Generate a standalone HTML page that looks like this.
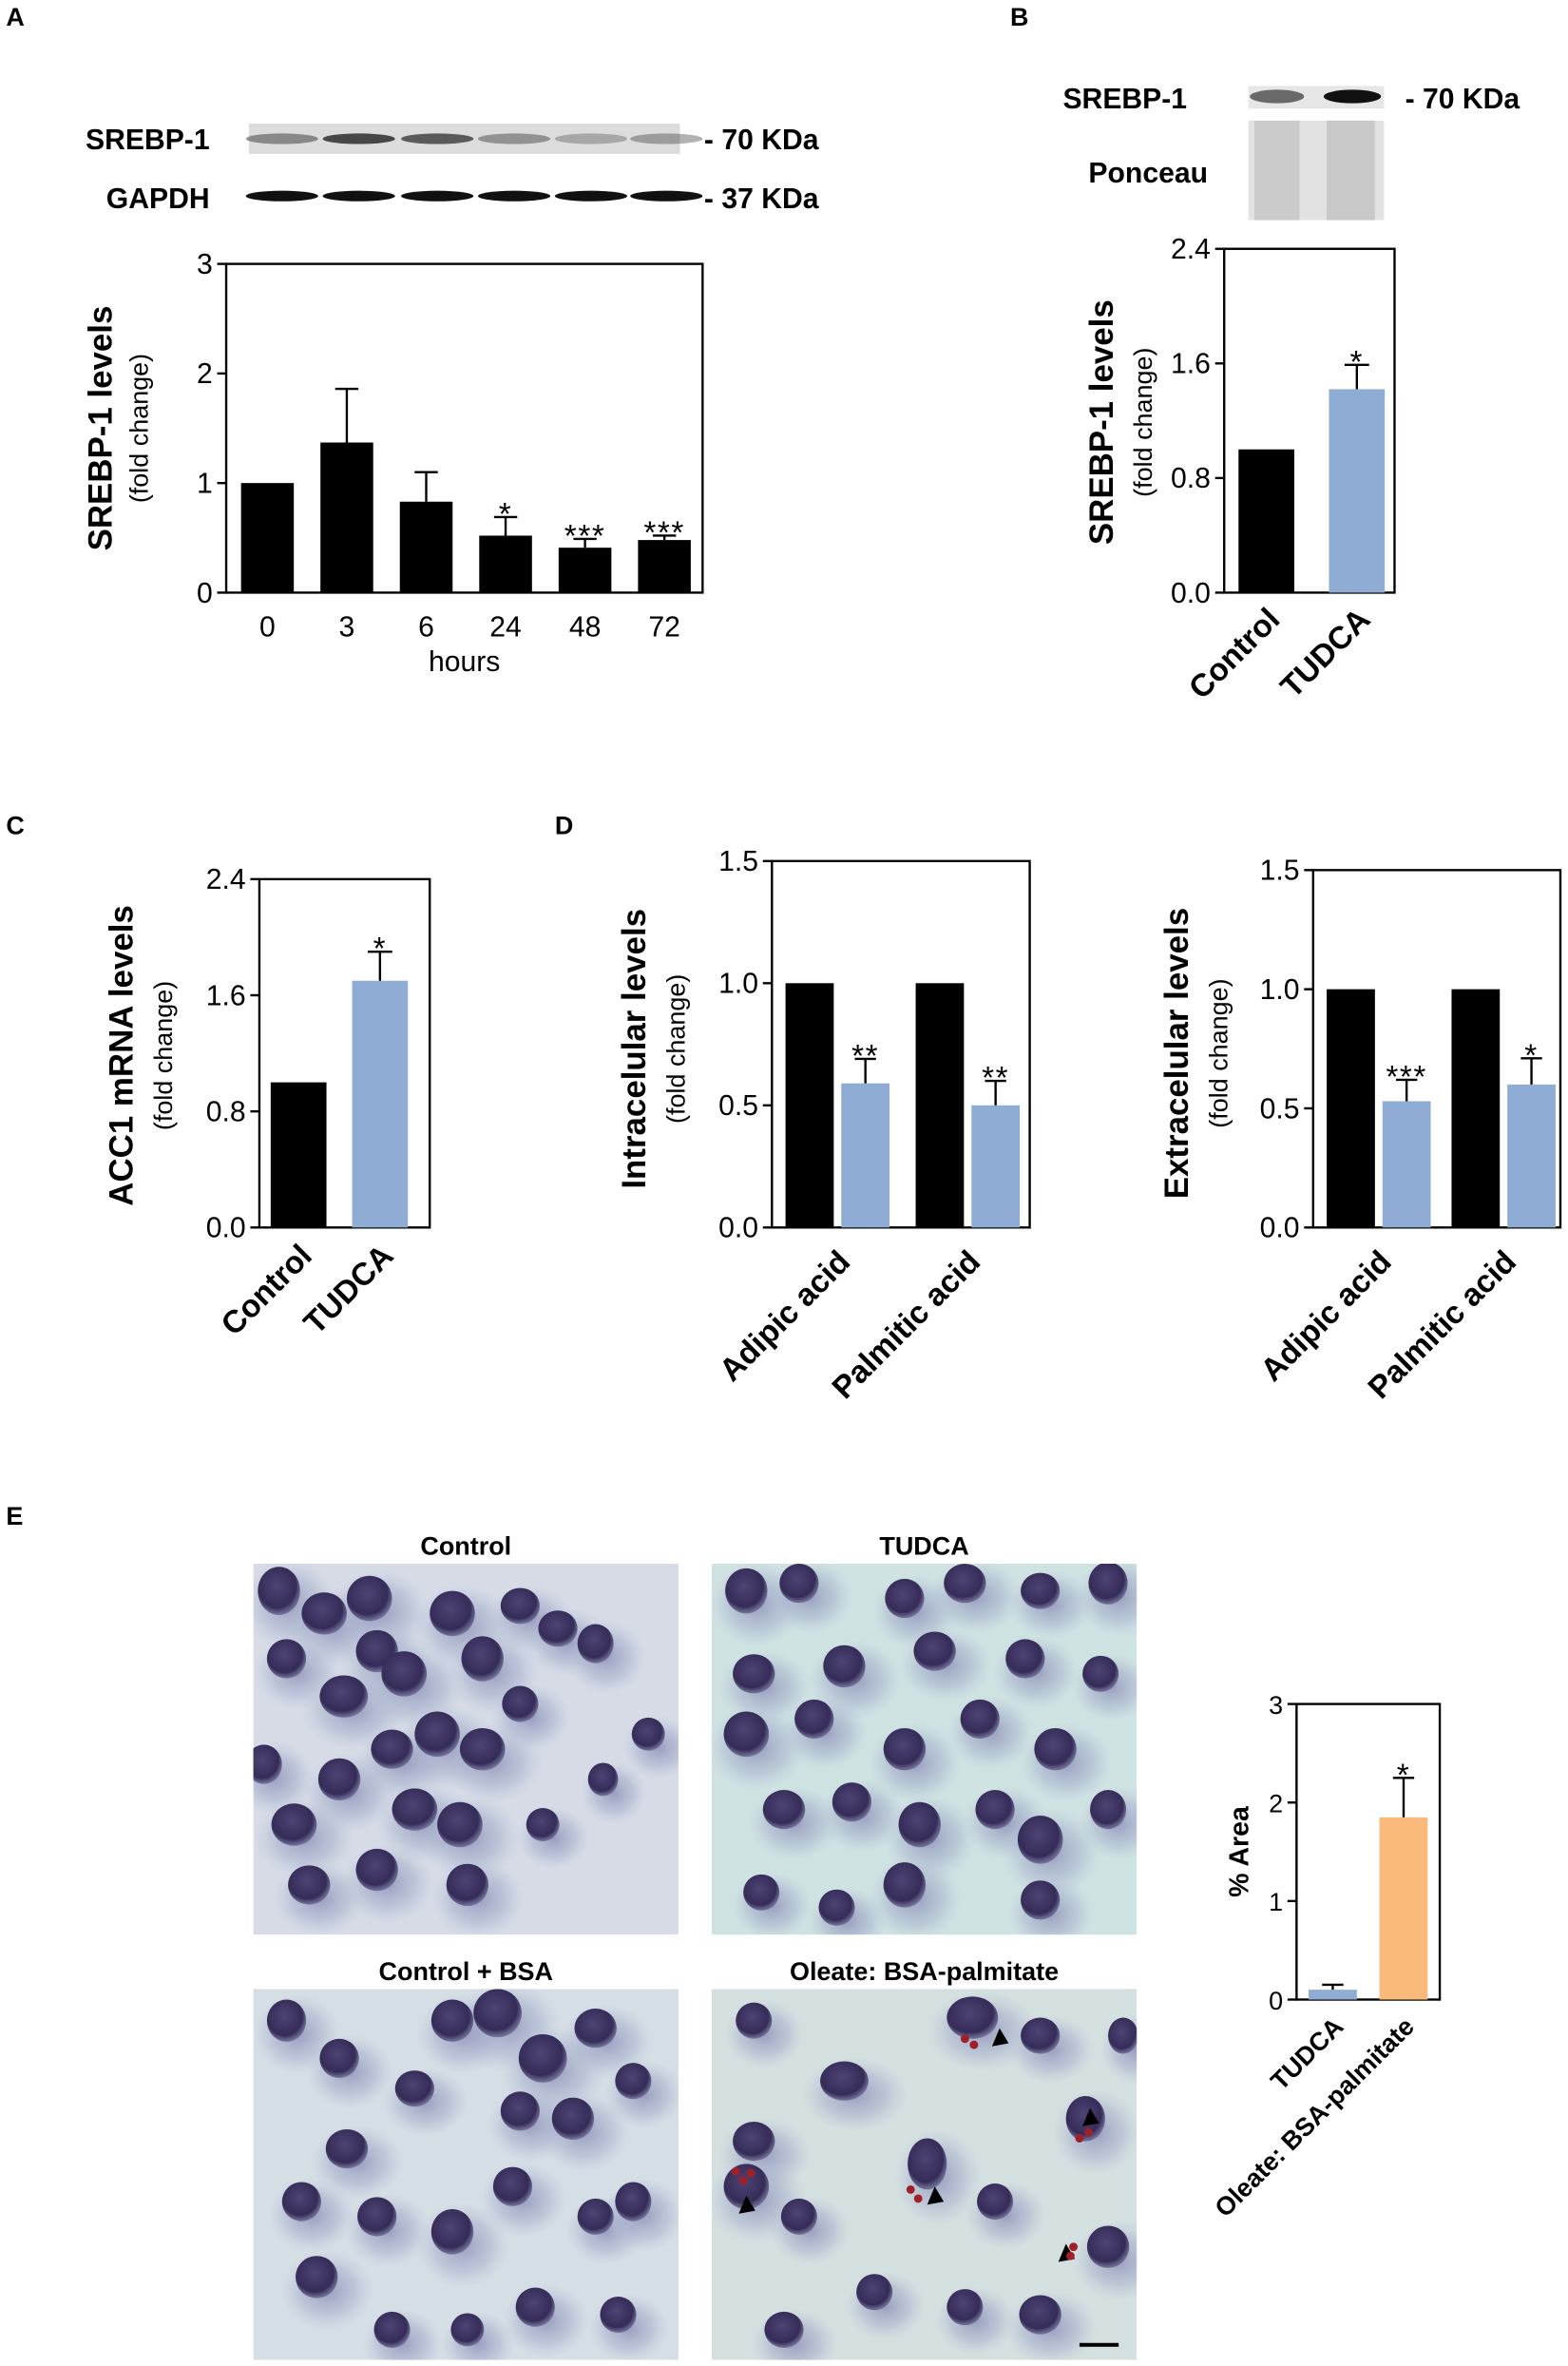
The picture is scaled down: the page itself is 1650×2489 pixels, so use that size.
<!DOCTYPE html>
<html><head><meta charset="utf-8"><style>
html,body{margin:0;padding:0;background:#fff}
svg{display:block}
text{font-family:"Liberation Sans",Arial,sans-serif}
</style></head><body>
<svg id="fig" width="1650" height="2489" viewBox="0 0 1040 1569" xmlns="http://www.w3.org/2000/svg">
<defs>
<radialGradient id="cell" cx="0.45" cy="0.4" r="0.6"><stop offset="0" stop-color="#4e4475"/><stop offset="0.75" stop-color="#352c58"/><stop offset="1" stop-color="#5d5a86" stop-opacity="0.7"/></radialGradient>
<radialGradient id="cyto" cx="0.5" cy="0.5" r="0.5"><stop offset="0" stop-color="#8a8cb4" stop-opacity="0.8"/><stop offset="0.6" stop-color="#a4aecb" stop-opacity="0.5"/><stop offset="1" stop-color="#b8c4d6" stop-opacity="0"/></radialGradient>
</defs>
<g id="root"></g>
</svg>
<script>
// ---------- Panel A data ----------
const aCategories = ["0","3","6","24","48","72"];
const aValues = [1.0, 1.37, 0.83, 0.52, 0.41, 0.48];
const aErrors = [0, 0.49, 0.27, 0.17, 0.08, 0.04];
const aStars = ["", "", "", "*", "***", "***"];
const aTicks = [0, 1, 2, 3];
// ---------- Panel B data ----------
const bCategories = ["Control","TUDCA"];
const bValues = [1.0, 1.42];
const bErrors = [0, 0.17];
const bStars = ["", "*"];
const bTicks = [0, 0.8, 1.6, 2.4];
const bTickLabels = ["0.0","0.8","1.6","2.4"];
// ---------- Panel C data ----------
const cCategories = ["Control","TUDCA"];
const cValues = [1.0, 1.7];
const cErrors = [0, 0.2];
const cStars = ["", "*"];
const cTicks = [0, 0.8, 1.6, 2.4];
const cTickLabels = ["0.0","0.8","1.6","2.4"];
// ---------- Panel D (intracellular) ----------
const dCategories = ["Adipic acid","Palmitic acid"];
const dInControl = [1.0, 1.0];
const dInTudca = [0.59, 0.5];
const dInErr = [0.1, 0.1];
const dInStars = ["**","**"];
// ---------- Panel D (extracellular) ----------
const dExControl = [1.0, 1.0];
const dExTudca = [0.53, 0.6];
const dExErr = [0.09, 0.11];
const dExStars = ["***","*"];
const dTicks = [0, 0.5, 1.0, 1.5];
const dTickLabels = ["0.0","0.5","1.0","1.5"];
// ---------- Panel E ----------
const eCategories = ["TUDCA","Oleate: BSA-palmitate"];
const eValues = [0.1, 1.85];
const eErrors = [0.05, 0.4];
const eStars = ["", "*"];
const eTicks = [0, 1, 2, 3];

const NS = "http://www.w3.org/2000/svg";
const root = document.getElementById("root");
function mk(tag, attrs, parent, txt) {
  const e = document.createElementNS(NS, tag);
  for (const k in attrs) e.setAttribute(k, attrs[k]);
  if (txt !== undefined) e.textContent = txt;
  (parent || root).appendChild(e);
  return e;
}
const BLUE = "#8eacd4", ORANGE = "#f9ba7c";

function axes(g, L, T, R, B, max, ticks, labels, fs) {
  const y = v => B - v / max * (B - T);
  const frame = mk("rect", {x:L, y:T, width:R-L, height:B-T, fill:"none", stroke:"#000", "stroke-width":1.5}, g);
  
  
  ticks.forEach((t, i) => {
    const tk = mk("line", {x1:L-6, x2:L, y1:y(t), y2:y(t), stroke:"#000", "stroke-width":1.5}, g);
    
    
    const tl = mk("text", {x:L-9, y:y(t)+6.5, "text-anchor":"end", "font-size":fs||19}, g, labels ? labels[i] : String(t));
    
    
  });
  return y;
}
function bar(g, cx, w, v, err, star, color, y, B, name) {
  const r = mk("rect", {x:cx-w/2, y:y(v), width:w, height:B-y(v), fill:color}, g);
  
  
  let top = y(v);
  if (err > 0) {
    top = y(v + err);
    const e1 = mk("line", {x1:cx, x2:cx, y1:y(v), y2:top, stroke:"#000", "stroke-width":1.5}, g);
    
    
    const e2 = mk("line", {x1:cx-w*0.22, x2:cx+w*0.22, y1:top, y2:top, stroke:"#000", "stroke-width":1.5}, g);
    
    
  }
  if (star) {
    const s = mk("text", {x:cx, y:top + 5, "text-anchor":"middle", "font-size":21, "letter-spacing":1}, g, star);
    
    
  }
}
function yTitle(g, x1, x2, cy, t1, t2) {
  const a = mk("text", {x:0, y:0, transform:`translate(${x1},${cy}) rotate(-90)`, "text-anchor":"middle", "font-size":22, "font-weight":"bold"}, g, t1);
  
  
  if (t2) {
    const b = mk("text", {x:0, y:0, transform:`translate(${x2},${cy}) rotate(-90)`, "text-anchor":"middle", "font-size":17}, g, t2);
    
    
  }
}
function rotLabel(g, x, y, t, fs) {
  const e = mk("text", {x:0, y:0, transform:`translate(${x},${y}) rotate(-45)`, "text-anchor":"end", "font-size":fs||21, "font-weight":"bold"}, g, t);
  
  
}
function panelLabel(x, y, t) {
  const e = mk("text", {x:x, y:y, "font-size":17, "font-weight":"bold"}, root, t);
  
  
}
function blotLabel(g, x, y, t, anchor) {
  const e = mk("text", {x:x, y:y, "font-size":19, "font-weight":"bold", "text-anchor":anchor||"start"}, g, t);
  
  
}

// ================= Panel A =================
panelLabel(4, 17, "A");
const gA = mk("g", {});  
blotLabel(gA, 139, 99, "SREBP-1", "end");
blotLabel(gA, 139, 138, "GAPDH", "end");
blotLabel(gA, 467, 99, "- 70 KDa");
blotLabel(gA, 467, 138, "- 37 KDa");
mk("rect", {x:165, y:82, width:286, height:20, fill:"#dcdcdc"}, gA);
[[187,0.45],[238,0.8],[290,0.7],[341,0.4],[392,0.28],[442,0.35]].forEach(([cx,o])=>{
  const b = mk("ellipse", {cx:cx, cy:92, rx:24, ry:3.5, fill:"#222", opacity:o}, gA);
   
});
[187,238,290,341,392,442].forEach(cx=>{
  const b = mk("ellipse", {cx:cx, cy:130, rx:24, ry:3.5, fill:"#111"}, gA);
   
});
{
  const L=150,T=175,R=466,B=393;
  const y = axes(gA, L, T, R, B, 3, aTicks);
  const step = (R-L)/aCategories.length;
  aCategories.forEach((c,i)=>{
    const cx = L + step*(i+0.5) + 1;
    bar(gA, cx, 35, aValues[i], aErrors[i], aStars[i], "#000", y, B, 'bar-' + c + 'h');
    const t = mk("text", {x:cx, y:422, "text-anchor":"middle", "font-size":19}, gA, c);
     
  });
  const h = mk("text", {x:308, y:445, "text-anchor":"middle", "font-size":19}, gA, "hours");
   
  yTitle(gA, 74, 98, 284, "SREBP-1 levels", "(fold change)");
}

// ================= Panel B =================
panelLabel(670, 17, "B");
const gB = mk("g", {});  
blotLabel(gB, 705, 72, "SREBP-1");
blotLabel(gB, 722, 121, "Ponceau");
blotLabel(gB, 932, 72, "- 70 KDa");
mk("rect", {x:828, y:57, width:90, height:15, fill:"#e6e6e6"}, gB);
mk("ellipse", {cx:847, cy:64, rx:18, ry:4.5, fill:"#333", opacity:0.7}, gB);
mk("ellipse", {cx:897, cy:64, rx:19, ry:4.5, fill:"#111"}, gB);
mk("rect", {x:828, y:80, width:90, height:66, fill:"#e2e2e2"}, gB);
mk("rect", {x:832, y:80, width:30, height:66, fill:"#cbcbcb"}, gB);
mk("rect", {x:880, y:80, width:32, height:66, fill:"#c8c8c8"}, gB);
{
  const L=812,T=165,R=925,B=393;
  const y = axes(gB, L, T, R, B, 2.4, bTicks, bTickLabels);
  const cxs = [L+28, L+88];
  bCategories.forEach((c,i)=>{
    bar(gB, cxs[i], 37, bValues[i], bErrors[i], bStars[i], i?BLUE:"#000", y, B, 'bar-' + c.toLowerCase());
    rotLabel(gB, cxs[i]+10, 412, c);
  });
  yTitle(gB, 738, 764, 280, "SREBP-1 levels", "(fold change)");
}

// ================= Panel C =================
panelLabel(4, 553, "C");
const gC = mk("g", {});  
{
  const L=172,T=583,R=285,B=814;
  const y = axes(gC, L, T, R, B, 2.4, cTicks, cTickLabels);
  const cxs = [L+26, L+80];
  cCategories.forEach((c,i)=>{
    bar(gC, cxs[i], 37, cValues[i], cErrors[i], cStars[i], i?BLUE:"#000", y, B, 'bar-' + c.toLowerCase());
    rotLabel(gC, cxs[i]+10, 834, c);
  });
  yTitle(gC, 88, 114, 700, "ACC1 mRNA levels", "(fold change)");
}

// ================= Panel D =================
panelLabel(368, 553, "D");
function panelD(name, L, T, R, B, ctrl, tud, err, stars, t1, tx) {
  const g = mk("g", {});  
  const y = axes(g, L, T, R, B, 1.5, dTicks, dTickLabels);
  const w = R - L;
  dCategories.forEach((c,i)=>{
    const base = L + 9 + i*w*0.505;
    bar(g, base+16, 32, ctrl[i], 0, "", "#000", y, B, 'bar-control-' + (i?'palmitic':'adipic'));
    bar(g, base+53, 32, tud[i], err[i], stars[i], BLUE, y, B, 'bar-tudca-' + (i?'palmitic':'adipic'));
    rotLabel(g, base+44, 838, c);
  });
  yTitle(g, tx, tx+26, (T+B)/2+3, t1, "(fold change)");
}
panelD('panel-d-intracellular', 512, 571, 683, 814, dInControl, dInTudca, dInErr, dInStars, "Intracelular levels", 428);
panelD('panel-d-extracellular', 871, 577, 1035, 814, dExControl, dExTudca, dExErr, dExStars, "Extracelular levels", 788);

// ================= Panel E =================
panelLabel(4, 1011, "E");
const gE = mk("g", {});  
const photos = [
  {x:168,y:1037,t:"Control",bg:"#d6dbe6",cells:[[185,1055,14,16],[215,1070,15,14],[245,1060,15,15],[250,1095,14,14],[190,1100,13,13],[228,1125,16,14],[268,1110,15,15],[300,1070,15,15],[320,1100,14,15],[345,1065,13,12],[370,1080,13,12],[290,1150,15,15],[260,1160,14,13],[320,1160,15,14],[225,1180,14,14],[195,1210,15,14],[275,1200,15,14],[305,1210,15,15],[250,1240,14,14],[310,1250,14,14],[205,1250,14,13],[345,1130,12,12],[395,1090,12,13],[430,1150,11,11],[400,1180,10,11],[360,1210,11,11],[175,1170,12,13]]},
  {x:472,y:1037,t:"TUDCA",bg:"#cfe2e2",cells:[[495,1055,14,15],[530,1050,13,13],[600,1060,13,13],[640,1050,14,13],[690,1055,13,12],[735,1050,13,14],[500,1110,14,13],[560,1105,14,14],[620,1095,14,13],[680,1100,13,13],[730,1110,12,12],[495,1150,15,15],[540,1140,13,13],[600,1160,14,14],[650,1140,13,13],[700,1160,14,14],[520,1200,14,13],[565,1195,13,13],[610,1210,14,15],[660,1200,13,13],[690,1220,15,16],[735,1200,12,13],[600,1250,14,15],[690,1260,13,13],[555,1265,12,12],[505,1255,12,12]]},
  {x:168,y:1319,t:"Control + BSA",bg:"#d5dde5",cells:[[330,1335,16,16],[360,1365,16,16],[395,1345,14,13],[300,1340,14,14],[380,1405,14,14],[420,1380,12,12],[345,1400,13,13],[190,1340,13,14],[225,1365,13,13],[230,1425,14,13],[275,1385,13,12],[200,1460,13,13],[250,1470,13,13],[300,1480,14,15],[340,1450,13,13],[395,1470,12,12],[210,1510,14,14],[355,1530,13,13],[420,1460,12,13],[260,1545,12,12],[410,1535,12,12],[310,1545,11,11]]},
  {x:472,y:1319,t:"Oleate: BSA-palmitate",bg:"#d4dfe0",cells:[[645,1338,17,14],[690,1350,13,12],[500,1340,12,12],[560,1380,16,13],[500,1420,14,13],[495,1450,15,15],[530,1470,12,12],[615,1435,13,17],[660,1460,12,12],[720,1405,13,15],[745,1350,10,12],[735,1490,14,14],[690,1535,14,13],[640,1530,12,12],[580,1520,12,12],[520,1545,13,12]]}
];
photos.forEach((p,pi)=>{
  const g = mk("g", {}, gE);
  
  
  const cp = mk("clipPath", {id:"clip"+pi}, g);
  mk("rect", {x:p.x, y:p.y, width:282, height:246}, cp);
  const inner = mk("g", {"clip-path":`url(#clip${pi})`}, g);
  mk("rect", {x:p.x, y:p.y, width:282, height:246, fill:p.bg}, inner);
  p.cells.forEach(([cx,cy,rx,ry])=>{
    mk("ellipse", {cx:cx+7, cy:cy+9, rx:rx*2.2, ry:ry*1.9, fill:"url(#cyto)"}, inner);
  });
  p.cells.forEach(([cx,cy,rx,ry])=>{
    const c = mk("ellipse", {cx:cx, cy:cy, rx:rx, ry:ry, fill:"url(#cell)"}, inner);
    
    
  });
  if (pi === 3) {
    [[490,1468],[615,1462],[658,1357],[718,1410],[702,1500]].forEach(([ax,ay])=>{
      const a = mk("polygon", {points:`${ax},${ay} ${ax+5},${ay-12} ${ax+11},${ay-2}`, fill:"#000"}, inner);
      
      
    });
    [[488,1440],[493,1446],[498,1441],[604,1452],[609,1458],[640,1352],[646,1356],[716,1418],[722,1414],[712,1490],[710,1496]].forEach(([dx,dy])=>{
      mk("circle", {cx:dx, cy:dy, r:2.8, fill:"#a0202a"}, inner);
    });
    const sb = mk("line", {x1:716, x2:742, y1:1555, y2:1555, stroke:"#000", "stroke-width":2.5}, inner);
    
    
  }
  const t = mk("text", {x:p.x+141, y:p.y-6, "text-anchor":"middle", "font-size":17, "font-weight":"bold"}, g, p.t);
  
  
});
{
  const L=860,T=1130,R=955,B=1326;
  const y = axes(gE, L, T, R, B, 3, eTicks, null, 17);
  const cxs = [L+24, L+71];
  eCategories.forEach((c,i)=>{
    bar(gE, cxs[i], 32, eValues[i], eErrors[i], eStars[i], i?ORANGE:BLUE, y, B, 'bar-' + (i?'oleate':'tudca'));
    rotLabel(gE, cxs[i]+8, 1345, c, 17);
  });
  const a = mk("text", {x:0, y:0, transform:`translate(828,1228) rotate(-90)`, "text-anchor":"middle", "font-size":18, "font-weight":"bold"}, gE, "% Area");
   
}
</script>
</body></html>
